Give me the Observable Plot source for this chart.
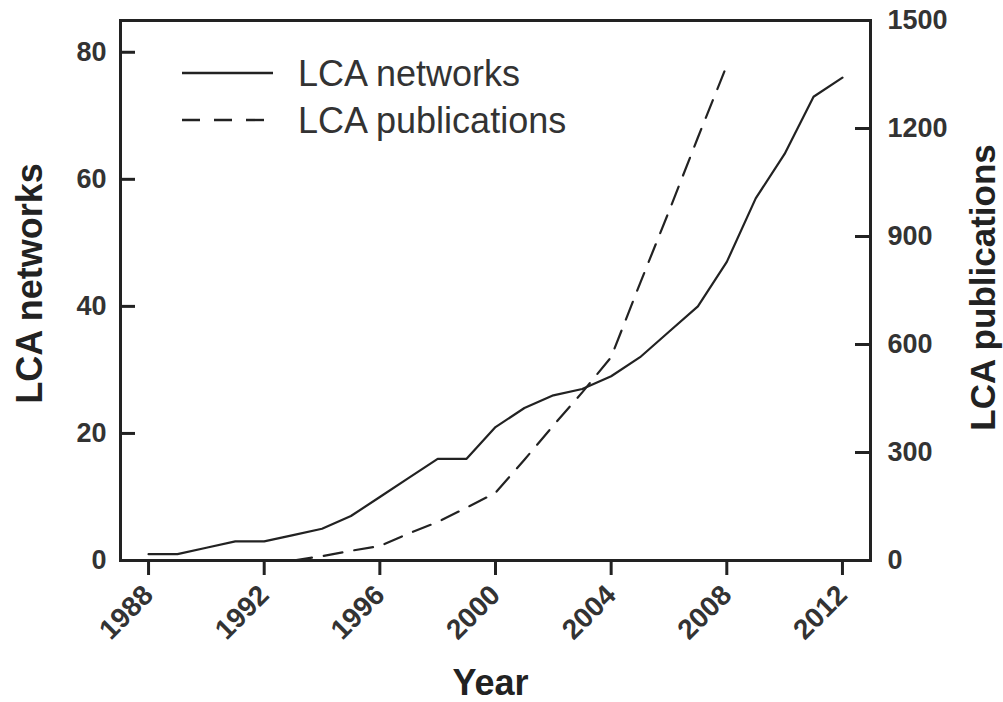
<!DOCTYPE html>
<html>
<head>
<meta charset="utf-8">
<script src="https://cdn.jsdelivr.net/npm/d3@7"></script>
<script src="https://cdn.jsdelivr.net/npm/@observablehq/plot@0.6"></script>
<style>
  html, body { margin: 0; padding: 0; background: #fff; }
  #chart { width: 1003px; height: 702px; }
</style>
</head>
<body>
<div id="chart"></div>
<script>
// ---- data ----
const networkYears = [1988,1989,1990,1991,1992,1993,1994,1995,1996,1997,1998,1999,2000,2001,2002,2003,2004,2005,2006,2007,2008,2009,2010,2011,2012];
const networkValues = [1,1,2,3,3,4,5,7,10,13,16,16,21,24,26,27,29,32,36,40,47,57,64,73,76];
const pubYears = [1993,1994,1995,1996,1997,1998,1999,2000,2001,2002,2003,2004,2005,2006,2007,2008];
const pubValues = [0,12,27,40,75,107,147,188,280,375,467,565,770,970,1175,1375];
const xTicks = [1988,1992,1996,2000,2004,2008,2012];
const leftTicks = [0,20,40,60,80];
const rightTicks = [0,300,600,900,1200,1500];
const legendLabels = ["LCA networks","LCA publications"];
const axisTitles = {x: "Year", left: "LCA networks", right: "LCA publications"};

// ---- layout / scales setup ----
const W = 1003, H = 702, mL = 120, mR = 133, mT = 20, mB = 142;
const xDomain = [1987.03, 2012.97];
const leftMax = 85;
const rightMax = 1500;
const toLeft = v => v * leftMax / rightMax;
const tickLen = 15; // px
const tickYears = tickLen * (xDomain[1] - xDomain[0]) / (W - mL - mR);

const networks = networkYears.map((y, i) => ({year: y, value: networkValues[i]}));
const pubs = pubYears.map((y, i) => ({year: y, value: pubValues[i]}));

const ink = "#222";
const font = "'Liberation Sans', Arial, Helvetica, sans-serif";

function legend(index, scales, values, dimensions) {
  const g = d3.create("svg:g");
  const x0 = dimensions.marginLeft + 62;
  const y0 = dimensions.marginTop + 53;
  legendLabels.forEach((label, i) => {
    const y = y0 + i * 47;
    g.append("line")
      .attr("x1", x0).attr("x2", i ? x0 + 82 : x0 + 91)
      .attr("y1", y).attr("y2", y)
      .attr("stroke", ink).attr("stroke-width", 2.4)
      .attr("stroke-dasharray", i ? "18,14" : null);
    g.append("text")
      .attr("x", x0 + 116).attr("y", y)
      .attr("dy", "0.36em")
      .attr("text-anchor", "start")
      .attr("fill", "#333")
      .attr("font-size", 36)
      .attr("font-family", font)
      .text(label);
  });
  return g.node();
}

const plot = Plot.plot({
  width: W,
  height: H,
  marginLeft: mL,
  marginRight: mR,
  marginTop: mT,
  marginBottom: mB,
  style: {fontFamily: font, background: "#fff", color: ink},
  x: {domain: xDomain},
  y: {domain: [0, leftMax]},
  marks: [
    Plot.line(networks, {x: "year", y: "value", stroke: ink, strokeWidth: 2.2}),
    Plot.line(pubs, {x: "year", y: d => toLeft(d.value), stroke: ink, strokeWidth: 2.2, strokeDasharray: "19,12"}),
    Plot.axisX({ticks: xTicks, tickFormat: d => String(d), tickSize: 15, tickPadding: 15, tickRotate: -45,
      strokeWidth: 3, fontSize: 28, fontWeight: "bold", fill: "#333", label: null}),
    Plot.axisY({anchor: "left", ticks: leftTicks, tickSize: 0, tickPadding: 14,
      fontSize: 27, fontWeight: "bold", fill: "#333", label: null}),
    Plot.axisY(rightTicks.map(toLeft), {anchor: "right", tickFormat: d => String(Math.round(d * rightMax / leftMax)),
      tickSize: 0, tickPadding: 17, fontSize: 27, fontWeight: "bold", fill: "#333", label: null}),
    // inward ticks on both vertical axes
    Plot.ruleY(leftTicks, {y: d => d, x1: xDomain[0], x2: xDomain[0] + tickYears, stroke: ink, strokeWidth: 3}),
    Plot.ruleY(rightTicks, {y: d => toLeft(d), x1: xDomain[1] - tickYears, x2: xDomain[1], stroke: ink, strokeWidth: 3}),
    Plot.frame({stroke: ink, strokeWidth: 3}),
    Plot.text([axisTitles.left], {frameAnchor: "left", textAnchor: "middle", dx: -90, dy: -7, rotate: -90, fontSize: 36, fontWeight: "bold", fill: ink}),
    Plot.text([axisTitles.right], {frameAnchor: "right", textAnchor: "middle", dx: 113, dy: -3, rotate: -90, fontSize: 35, fontWeight: "bold", fill: ink}),
    Plot.text([axisTitles.x], {frameAnchor: "bottom", dx: -5, dy: 134, fontSize: 36, fontWeight: "bold", fill: ink}),
    legend
  ]
});
document.getElementById("chart").appendChild(plot);
</script>
</body>
</html>
